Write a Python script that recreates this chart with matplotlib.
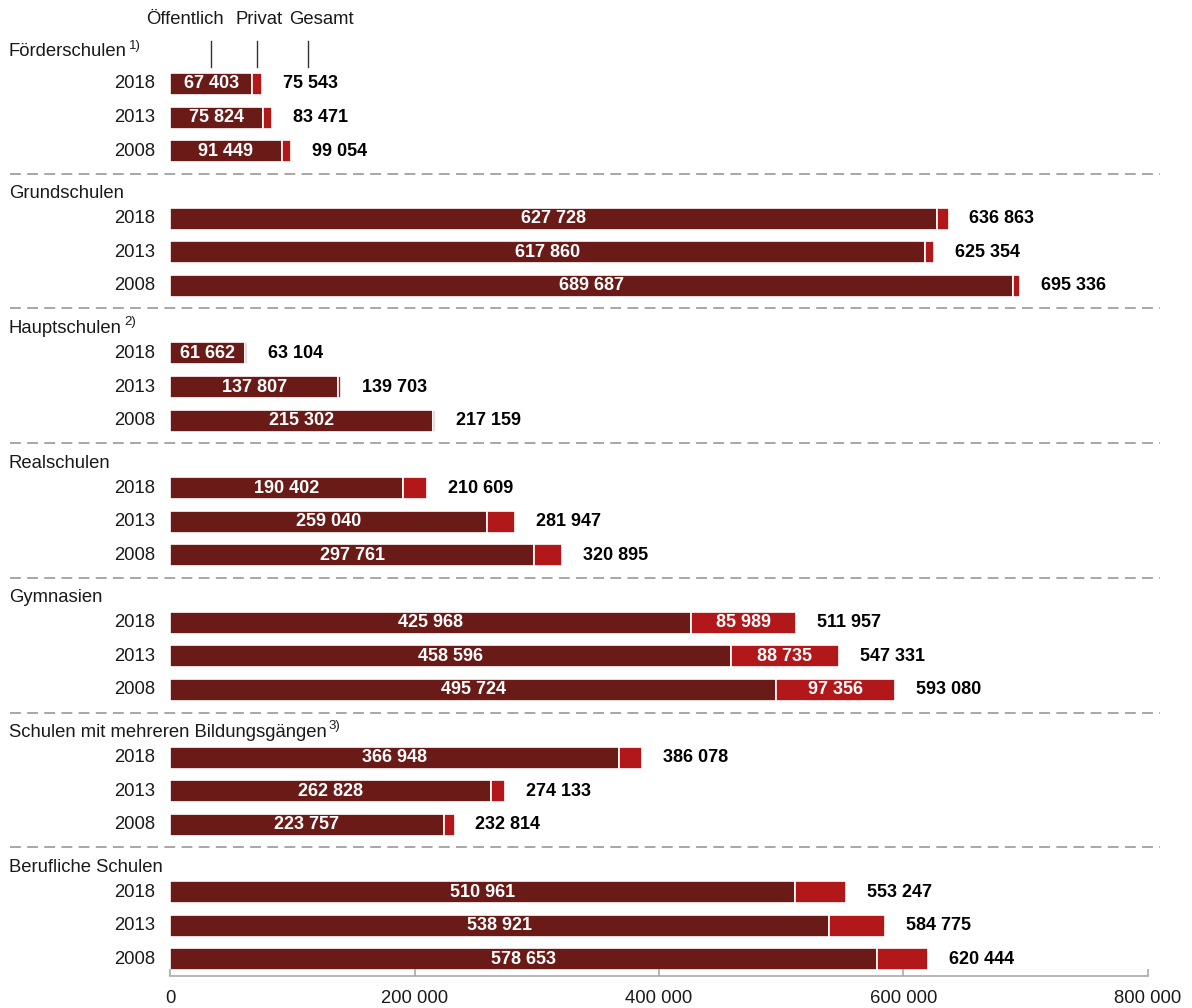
import matplotlib
matplotlib.use("Agg")
import matplotlib.pyplot as plt
from matplotlib.transforms import blended_transform_factory

plt.rcParams['font.family'] = ['Liberation Sans', 'DejaVu Sans']

# Schülerinnen und Schüler nach Schulart, öffentlich / privat
school_types = ["Förderschulen", "Grundschulen", "Hauptschulen", "Realschulen",
                "Gymnasien", "Schulen mit mehreren Bildungsgängen", "Berufliche Schulen"]
footnotes = ["1)", "", "2)", "", "", "3)", ""]
years = ["2018", "2013", "2008"]

public = [
    [67403, 75824, 91449],
    [627728, 617860, 689687],
    [61662, 137807, 215302],
    [190402, 259040, 297761],
    [425968, 458596, 495724],
    [366948, 262828, 223757],
    [510961, 538921, 578653],
]
total = [
    [75543, 83471, 99054],
    [636863, 625354, 695336],
    [63104, 139703, 217159],
    [210609, 281947, 320895],
    [511957, 547331, 593080],
    [386078, 274133, 232814],
    [553247, 584775, 620444],
]

x_ticks = [0, 200000, 400000, 600000, 800000]

DARK = "#6a1b17"
RED = "#b2171a"
W, H = 1192, 1008


def fmt(v):
    return f"{v:,}".replace(",", " ")


def main():
    fig = plt.figure(figsize=(W / 100, H / 100), dpi=100)
    ax = fig.add_axes([170 / W, 32 / H, 978 / W, 976 / H])
    ax.set_xlim(0, 800000)
    ax.set_ylim(976, 0)
    tr = blended_transform_factory(fig.transFigure, ax.transData)

    for g, name in enumerate(school_types):
        y0 = 84 + g * 134.7
        head_y = y0 - (32 if g == 0 else 25)
        t = ax.text(9 / W, head_y, name, transform=tr, ha="left", va="center",
                    fontsize=13.3, color="#1a1a1a")
        if footnotes[g]:
            fig.canvas.draw()
            bb = t.get_window_extent()
            ax.text(bb.x1 / W + 2 / W, head_y - 6, footnotes[g], transform=tr,
                    ha="left", va="center", fontsize=9.5, color="#1a1a1a")
        for i, yr in enumerate(years):
            y = y0 + i * 33.6
            pub = public[g][i]
            priv = total[g][i] - pub
            ax.barh(y, pub, height=22, color=DARK, edgecolor="white", linewidth=1.2)
            ax.barh(y, priv, left=pub, height=22, color=RED, edgecolor="white", linewidth=1.2)
            ax.text(155 / W, y, yr, transform=tr, ha="right", va="center",
                    fontsize=13.3, color="#1a1a1a")
            ax.text(pub / 2, y, fmt(pub), ha="center", va="center", fontsize=13,
                    fontweight="bold", color="white")
            if priv > 50000:
                ax.text(pub + priv / 2, y, fmt(priv), ha="center", va="center",
                        fontsize=13, fontweight="bold", color="white")
            ax.annotate(fmt(total[g][i]), (total[g][i], y), xytext=(15, 0),
                        textcoords="offset points", ha="left", va="center",
                        fontsize=13, fontweight="bold", color="black")
        if g < len(school_types) - 1:
            ly = y0 + 134.7 - 45
            ax.plot([10 / W, 1160 / W], [ly, ly], transform=tr, color="#a0a0a0",
                    lw=1.3, ls=(0, (6, 3.5)), clip_on=False)

    # legend header
    pub0 = public[0][0]
    priv0 = total[0][0] - pub0
    legend_x = [pub0 / 2, pub0 + priv0 / 2, total[0][0] + 37000]
    legend_txt = ["Öffentlich", "Privat", "Gesamt"]
    text_x = [185, 259, 321]
    for lx, tx, lab in zip(legend_x, text_x, legend_txt):
        ax.plot([lx, lx], [41, 67], color="#333333", lw=1, clip_on=False)
        ax.text(tx / W, 20, lab, transform=tr, ha="center", va="center",
                fontsize=13.3, color="#1a1a1a")

    for s in ["top", "right", "left"]:
        ax.spines[s].set_visible(False)
    ax.spines["bottom"].set_color("#aaaaaa")
    ax.spines["bottom"].set_linewidth(1.2)
    ax.set_yticks([])
    ax.set_xticks(x_ticks)
    ax.set_xticklabels([fmt(v) for v in x_ticks], fontsize=13.3, color="#1a1a1a")
    ax.tick_params(axis="x", direction="in", length=5, color="#aaaaaa", width=1.2, pad=10)

    fig.savefig("out.png", dpi=100)
    plt.close(fig)


if __name__ == "__main__":
    main()
